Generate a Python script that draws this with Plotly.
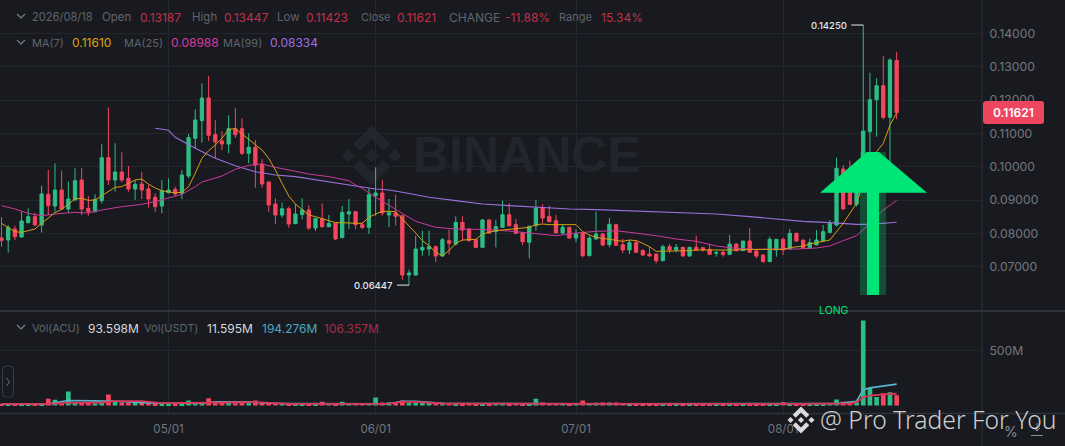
import pandas as pd
import plotly.graph_objects as go

W, H = 1065, 446
dates = [d.strftime("%Y-%m-%d") for d in pd.date_range("2026-04-06", periods=135, freq="D")]

open_ = [.0786,.0780,.0813,.0789,.0832,.0850,.0825,.0917,.0882,.0930,
 .0873,.0900,.0960,.0875,.0865,.0898,.1027,.0960,.0984,.0965,
 .0933,.0948,.0933,.0908,.0882,.0922,.0932,.0920,.0972,.1085,
 .1138,.1206,.1096,.1077,.1068,.1114,.1114,.1040,.1058,.1008,
 .0954,.0888,.0855,.0874,.0829,.0856,.0870,.0816,.0844,.0820,
 .0830,.0787,.0858,.0865,.0826,.0818,.0913,.0921,.0855,.0861,
 .0853,.0675,.0675,.0750,.0753,.0760,.0732,.0778,.0768,.0833,
 .0813,.0781,.0758,.0840,.0805,.0818,.0856,.0826,.0801,.0773,
 .0823,.0876,.0851,.0838,.0801,.0818,.0786,.0800,.0733,.0783,
 .0798,.0766,.0826,.0766,.0750,.0772,.0748,.0738,.0738,.0718,
 .0760,.0750,.0758,.0732,.0758,.0757,.0752,.0740,.0743,.0737,
 .0768,.0748,.0777,.0747,.0735,.0715,.0750,.0782,.0753,.0800,
 .0780,.0755,.0765,.0777,.0803,.0825,.0993,.0980,.0887,.0990,
 .1105,.1201,.1243,.1148,.13187]
high = [.0848,.0825,.0823,.0865,.0875,.0862,.0943,.0990,.1010,.0988,
 .0955,.0995,.0996,.0912,.0917,.1067,.1178,.1070,.1043,.1002,
 .0960,.0985,.0945,.0920,.0960,.0965,.0940,.0990,.1098,.1172,
 .1250,.1272,.1140,.1106,.1154,.1177,.1145,.1100,.1080,.1023,
 .0954,.0905,.0892,.0880,.0888,.0905,.0884,.0845,.0890,.0855,
 .0830,.0882,.0903,.0865,.0833,.0935,.0998,.0960,.0903,.0916,
 .0853,.0691,.0793,.0808,.0808,.0763,.0786,.0811,.0851,.0851,
 .0816,.0781,.0843,.0843,.0841,.0898,.0891,.0843,.0803,.0823,
 .0900,.0888,.0883,.0855,.0828,.0818,.0813,.0803,.0793,.0865,
 .0801,.0846,.0826,.0783,.0780,.0780,.0753,.0760,.0738,.0766,
 .0768,.0768,.0758,.0760,.0793,.0759,.0767,.0748,.0750,.0795,
 .0770,.0777,.0815,.0750,.0735,.0790,.0782,.0787,.0813,.0802,
 .0780,.0785,.0810,.0825,.0840,.1027,.1005,.1018,.1000,.14250,
 .1282,.1265,.1332,.1325,.13447]
low = [.0760,.0742,.0780,.0787,.0830,.0823,.0802,.0855,.0865,.0870,
 .0862,.0898,.0855,.0853,.0863,.0890,.0945,.0925,.0953,.0925,
 .0900,.0903,.0877,.0865,.0860,.0920,.0912,.0902,.0965,.1055,
 .1072,.1077,.1025,.1050,.1040,.1086,.1035,.1010,.0937,.0937,
 .0865,.0828,.0847,.0817,.0828,.0842,.0810,.0807,.0817,.0818,
 .0780,.0785,.0813,.0813,.0813,.0798,.0853,.0853,.0818,.0823,
 .0661,.06447,.0673,.0733,.0733,.0713,.0730,.0736,.0763,.0778,
 .0776,.0756,.0758,.0798,.0758,.0816,.0820,.0798,.0765,.0725,
 .0808,.0831,.0833,.0801,.0798,.0784,.0773,.0728,.0731,.0781,
 .0761,.0758,.0763,.0740,.0738,.0741,.0733,.0731,.0710,.0716,
 .0740,.0743,.0730,.0730,.0748,.0745,.0735,.0730,.0730,.0735,
 .0745,.0748,.0742,.0725,.0712,.0715,.0730,.0735,.0752,.0775,
 .0753,.0753,.0765,.0775,.0800,.0820,.0873,.0885,.0880,.0970,
 .1040,.1090,.1142,.1000,.11423]
close = [.0779,.0817,.0790,.0837,.0850,.0825,.0918,.0883,.0930,.0873,
 .0903,.0958,.0873,.0865,.0902,.1027,.0960,.0984,.0960,.0933,
 .0947,.0930,.0903,.0880,.0928,.0930,.0918,.0975,.1087,.1140,
 .1206,.1094,.1074,.1068,.1114,.1096,.1040,.1058,.1005,.0948,
 .0885,.0855,.0874,.0828,.0858,.0870,.0816,.0845,.0820,.0830,
 .0783,.0863,.0865,.0826,.0818,.0916,.0921,.0861,.0862,.0851,
 .0675,.0681,.0753,.0758,.0760,.0732,.0781,.0770,.0833,.0810,
 .0778,.0758,.0840,.0801,.0820,.0856,.0823,.0800,.0775,.0821,
 .0876,.0846,.0835,.0801,.0818,.0786,.0798,.0733,.0786,.0798,
 .0765,.0827,.0764,.0750,.0772,.0743,.0735,.0732,.0718,.0760,
 .0750,.0758,.0732,.0758,.0750,.0750,.0737,.0742,.0737,.0768,
 .0748,.0777,.0743,.0732,.0715,.0782,.0782,.0750,.0800,.0777,
 .0755,.0772,.0780,.0805,.0830,.0995,.0873,.0887,.0990,.1107,
 .1201,.1243,.1148,.1320,.11621]
volume_m = [14,12,16,14,13,11,16,60,52,28,
 127,30,24,22,20,22,100,32,26,24,
 22,25,20,18,17,16,18,16,45,22,
 24,66,30,28,24,20,22,24,45,26,
 24,22,20,18,18,16,16,14,33,20,
 18,33,22,20,20,22,73,28,30,26,
 45,28,26,26,28,24,24,20,16,18,
 20,14,14,18,20,22,18,20,18,18,
 60,26,22,20,22,18,20,45,22,24,
 28,26,26,20,18,18,16,14,14,16,
 18,14,14,14,16,14,14,12,14,14,
 14,16,15,14,14,16,18,30,14,16,
 14,14,16,18,20,55,33,33,30,773,
 158,76,112,121,94]

ma7_days = list(range(0, 135))
ma7 = [.0830,.0817,.0805,.0803,.0808,.0813,.0830,.0847,.0862,.0872,
 .0888,.0903,.0905,.0899,.0900,.0912,.0925,.0938,.0940,.0950,
 .0960,.0963,.0948,.0936,.0928,.0924,.0922,.0923,.0940,.0980,
 .1025,.1048,.1065,.1085,.1112,.1114,.1098,.1080,.1066,.1050,
 .1025,.0990,.0950,.0912,.0888,.0870,.0855,.0850,.0844,.0838,
 .0832,.0832,.0830,.0830,.0830,.0848,.0858,.0866,.0866,.0865,
 .0843,.0823,.0801,.0778,.0763,.0743,.0733,.0748,.0770,.0780,
 .0781,.0782,.0798,.0803,.0808,.0810,.0812,.0813,.0816,.0818,
 .0826,.0828,.0826,.0826,.0827,.0828,.0826,.0805,.0795,.0788,
 .0785,.0783,.0780,.0776,.0780,.0778,.0770,.0760,.0746,.0746,
 .0746,.0746,.0747,.0748,.0750,.0750,.0750,.0750,.0748,.0748,
 .0750,.0751,.0752,.0752,.0752,.0752,.0752,.0752,.0757,.0760,
 .0762,.0768,.0773,.0776,.0780,.0805,.0830,.0860,.0890,.0950,
 .1020,.1045,.1070,.1125,.11610]
ma25_days = [0,2,4,6,8,11,13,15,18,21,23,25,27,29,30,33,35,37,39,41,46,49,52,53,54,56,59,62,65,68,71,74,77,80,83,86,89,92,95,98,101,104,107,110,113,116,119,122,124,126,128,130,132,134]
ma25 = [.0883,.0873,.0860,.0853,.0858,.0863,.0861,.0870,.0880,.0887,.0895,.0907,.0917,.0940,.0954,.0972,.0992,.1004,.1008,.0998,.0978,.0970,.0958,.0945,.0935,.0908,.0873,.0836,.0818,.0813,.0812,.0810,.0805,.0798,.0793,.0801,.0806,.0808,.0801,.0793,.0783,.0776,.0762,.0755,.0752,.0752,.0753,.0756,.0762,.0778,.0793,.0830,.0870,.08988]
ma99_days = [23,25,26,29,32,35,38,41,44,47,50,53,56,58,60,64,68,72,76,80,85,89,93,98,104,107,112,116,120,124,128,130,132,134]
ma99 = [.1115,.1109,.1088,.1055,.1025,.1003,.0985,.0975,.0970,.0960,.0950,.0942,.0933,.0930,.0923,.0908,.0898,.0888,.0883,.0878,.0873,.0871,.0868,.0865,.0861,.0858,.0850,.0843,.0836,.0832,.0827,.0827,.0831,.08334]
vol_fast_days = [0,7,9,10,14,17,22,24,30,32,37,39,43,50,58,60,62,66,75,85,95,105,115,125,128,129,130,134]
vol_fast_m = [14,14,36,45,42,38,24,20,20,34,34,22,17,15,16,38,38,20,16,15,15,15,15,18,39,143,160,194.276]
vol_slow_days = [0,7,10,15,17,21,24,30,34,38,43,50,58,60,62,66,80,100,120,127,128,129,130,132,134]
vol_slow_m = [15,15,24,27,39,39,21,21,27,30,15,15,16,33,33,18,16,15,15,18,30,75,90,100,106.357]

price_ticks = [.07,.08,.09,.10,.11,.12,.13,.14]
price_tick_labels = ["0.07000","0.08000","0.09000","0.10000","0.11000","0.12000","0.13000","0.14000"]
time_ticks = ["2026-05-01","2026-06-01","2026-07-01","2026-08-01"]
time_tick_labels = ["05/01","06/01","07/01","08/01"]

assert all(len(a) == 135 for a in (open_, high, low, close, volume_m, ma7)), [len(a) for a in (open_, high, low, close, volume_m, ma7)]
assert len(ma25_days) == len(ma25) and len(ma99_days) == len(ma99)
assert len(vol_fast_days) == len(vol_fast_m) and len(vol_slow_days) == len(vol_slow_m)

BG, GRID, EDGE = "#181A20", "#23262D", "#2E323A"
UP, DOWN = "#2EBD85", "#F6465D"
GREY, RED, WHITE = "#5F646D", "#C23049", "#D6D9DD"
YEL, MAG, PUR = "#DDA20F", "#D63AA0", "#A06FE0"
ARROW = "#00E676"
FONT = "Inter"
X_RANGE = ["2026-04-05 18:30", "2026-08-30 18:40"]

def X(px): return px / W
def Y(py): return 1 - py / H

fig = go.Figure()
fig.add_trace(go.Candlestick(x=dates, open=open_, high=high, low=low, close=close,
    increasing=dict(line=dict(color=UP, width=1), fillcolor=UP),
    decreasing=dict(line=dict(color=DOWN, width=1), fillcolor=DOWN),
    whiskerwidth=0, xaxis="x", yaxis="y", hoverinfo="skip"))
for days, vals, col, w in ((ma99_days, ma99, "#9A6FDB", 1.1), (ma25_days, ma25, "#C93A9C", 1), (ma7_days, ma7, "#D79E12", 1)):
    fig.add_trace(go.Scatter(x=[dates[d] for d in days], y=vals, mode="lines",
        line=dict(color=col, width=w), xaxis="x", yaxis="y", hoverinfo="skip"))
fig.add_trace(go.Bar(x=dates, y=volume_m, marker_color=[UP if c >= o else DOWN for o, c in zip(open_, close)],
    marker_line_width=0, xaxis="x2", yaxis="y2", hoverinfo="skip"))
fig.add_trace(go.Scatter(x=[dates[d] for d in vol_fast_days], y=vol_fast_m, mode="lines",
    line=dict(color="#55B7CF", width=1.6), xaxis="x2", yaxis="y2", hoverinfo="skip"))
fig.add_trace(go.Scatter(x=[dates[d] for d in vol_slow_days], y=vol_slow_m, mode="lines",
    line=dict(color="#DB3459", width=1.8), xaxis="x2", yaxis="y2", hoverinfo="skip"))

shapes, notes = [], []

def line(x0, y0, x1, y1, color, width=1, layer="above"):
    shapes.append(dict(type="line", xref="paper", yref="paper", x0=X(x0), y0=Y(y0), x1=X(x1), y1=Y(y1),
                       line=dict(color=color, width=width), layer=layer))

def poly(points, fill, layer="above", opacity=1, stroke=None):
    path = "M" + " L".join(f"{X(a):.5f},{Y(b):.5f}" for a, b in points) + " Z"
    shapes.append(dict(type="path", xref="paper", yref="paper", path=path, fillcolor=fill, opacity=opacity,
                       line=dict(width=0 if not stroke else 1, color=stroke or fill), layer=layer))

def rounded(x0, y0, x1, y1, r, fill, stroke=None):
    p = (f"M{X(x0+r)},{Y(y0)} L{X(x1-r)},{Y(y0)} Q{X(x1)},{Y(y0)} {X(x1)},{Y(y0+r)} L{X(x1)},{Y(y1-r)} "
         f"Q{X(x1)},{Y(y1)} {X(x1-r)},{Y(y1)} L{X(x0+r)},{Y(y1)} Q{X(x0)},{Y(y1)} {X(x0)},{Y(y1-r)} "
         f"L{X(x0)},{Y(y0+r)} Q{X(x0)},{Y(y0)} {X(x0+r)},{Y(y0)} Z")
    shapes.append(dict(type="path", xref="paper", yref="paper", path=p, fillcolor=fill,
                       line=dict(width=1 if stroke else 0, color=stroke or fill), layer="above"))

def text(px, py, s, color, size=12, anchor="left", family=FONT, weight=None):
    notes.append(dict(xref="paper", yref="paper", x=X(px), y=Y(py), text=s, showarrow=False,
                      xanchor=anchor, yanchor="middle", borderpad=0,
                      font=dict(color=color, size=size, family=family, weight=weight)))

LOGO = [[(38.73,53.2),(63.3,28.64),(87.88,53.22),(102.17,38.93),(63.3,0),(24.44,38.87)],
        [(0,63.31),(14.3,49.01),(28.6,63.31),(14.3,77.6)],
        [(38.73,73.41),(63.3,97.97),(87.89,73.4),(102.19,87.68),(63.3,126.61),(24.44,87.76)],
        [(98.01,63.31),(112.3,49.01),(126.6,63.31),(112.3,77.6)],
        [(77.79,63.3),(63.3,48.8),(48.81,63.28),(63.3,77.8)]]
def logo(cx, cy, size, fill, layer):
    k = size / 126.6
    for piece in LOGO:
        poly([(cx + (a - 63.3) * k, cy + (b - 63.3) * k) for a, b in piece], fill, layer)

logo(371.7, 155.5, 60, "#22252B", "below")
text(527, 155, "BINANCE", "#22252B", 50, "center", "Liberation Sans", "bold")

# pane edges
line(0, 311, W, 311, EDGE, 2)
line(0, 413.5, W, 413.5, EDGE, 1.5)
line(982, 0, 982, H, EDGE, 1)

# LONG signal
poly([(860,152),(886,152),(886,295),(860,295)], ARROW, opacity=0.25)
poly([(867,152),(879,152),(927,192.7),(879,192.7),(879,295),(867,295),(867,192.7),(820,192.7)], ARROW)
text(834, 310, "LONG", ARROW, 10.5, "center")

# high / low markers
for day, price, label in ((129, max(high), "0.14250"), (61, min(low), "0.06447")):
    shapes.append(dict(type="line", xref="x", yref="y", xsizemode="pixel", xanchor=dates[day], x0=-12, x1=0,
                       y0=price, y1=price, line=dict(color="#E6E8EA", width=1), layer="above"))
    notes.append(dict(xref="x", yref="y", x=dates[day], y=price, text=label, showarrow=False, xanchor="right",
                      xshift=-15, yanchor="middle", borderpad=0,
                      font=dict(color="#E6E8EA", size=9.5, family=FONT, weight=500)))

# price tag
rounded(983, 101, 1044, 124, 3, "#EE4560")
text(1013.5, 112.8, "0.11621", "#FFFFFF", 12, "center", FONT, 600)

# legends
def chevron(y):
    shapes.append(dict(type="path", xref="paper", yref="paper",
        path=f"M{X(17)},{Y(y-2)} L{X(21)},{Y(y+2)} L{X(25)},{Y(y-2)}", line=dict(color="#7A808A", width=1.2), layer="above"))
for y in (16, 42, 327):
    chevron(y)
LBL, NUM = 11, 12
row1 = [(31,"2026/08/18",GREY,11.1),(101,"Open",GREY,LBL+.5),(139,"0.13187",RED,NUM),(191,"High",GREY,LBL+.5),(223,"0.13447",RED,NUM),
        (276,"Low",GREY,LBL+.5),(305,"0.11423",RED,NUM),(360,"Close",GREY,LBL),(396,"0.11621",RED,NUM),(448,"CHANGE",GREY,NUM),
        (504,"-11.88%",RED,NUM),(558,"Range",GREY,LBL),(600,"15.34%",RED,NUM)]
for x, s, c, z in row1:
    text(x, 17, s, c, z)
row2 = [(31,"MA(7)",GREY,LBL),(71,"0.11610",YEL,NUM),(123,"MA(25)",GREY,LBL),(170,"0.08988",MAG,NUM),(222,"MA(99)",GREY,LBL),(269,"0.08334",PUR,NUM)]
for x, s, c, z in row2:
    text(x, 43, s, c, z)
row3 = [(31,"Vol(ACU)",GREY,LBL),(87,"93.598M",WHITE,NUM),(143,"Vol(USDT)",GREY,LBL),(206,"11.595M",WHITE,NUM),(261,"194.276M","#4DA9C2",NUM),(323,"106.357M","#A72C46",NUM)]
for x, s, c, z in row3:
    text(x, 328, s, c, z)

# side handle
rounded(2.5, 366, 13.5, 397, 4, "rgba(0,0,0,0)", "#3A3E46")
shapes.append(dict(type="path", xref="paper", yref="paper",
    path=f"M{X(6.5)},{Y(378)} L{X(9.5)},{Y(382)} L{X(6.5)},{Y(386)}", line=dict(color="#6A6F78", width=1), layer="above"))

# corner tools and credit
text(1011, 431, "%", "#8A8F97", 14, "center")
shapes.append(dict(type="path", xref="paper", yref="paper",
    path=f"M{X(1037)},{Y(423)} L{X(1037)},{Y(431)} M{X(1034)},{Y(428)} L{X(1037)},{Y(431)} L{X(1040)},{Y(428)} M{X(1031)},{Y(435.5)} L{X(1043)},{Y(435.5)}",
    line=dict(color="#8A8F97", width=1), layer="above"))
logo(801, 420, 27, "#DADADA", "above")
text(819, 419, "@ Pro Trader For You", "#CFCFCF", 24.7, "left", "Noto Sans", 300)

axis_common = dict(showline=False, zeroline=False, gridcolor=GRID, gridwidth=1)
fig.update_layout(
    width=W, height=H, margin=dict(l=0, r=0, t=0, b=0, autoexpand=False),
    paper_bgcolor=BG, plot_bgcolor=BG, showlegend=False, bargap=0.3, boxgap=0.3,
    font=dict(family=FONT, size=12, color="#72777F"), shapes=shapes, annotations=notes,
    xaxis=dict(domain=[0, 982/W], anchor="y", type="date", range=X_RANGE,
               rangeslider=dict(visible=False), tickvals=time_ticks, showticklabels=False, **axis_common),
    yaxis=dict(domain=[1-311/H, 1], anchor="x", side="right", range=[.0567, .15], tickvals=price_ticks,
               ticktext=price_tick_labels, ticks="outside", ticklen=4, tickcolor="rgba(0,0,0,0)",
               tickfont=dict(size=12.2, color="#72777F"), **axis_common),
    xaxis2=dict(domain=[0, 982/W], anchor="y2", type="date", range=X_RANGE,
                tickvals=time_ticks, ticktext=time_tick_labels, ticks="outside", ticklen=5, tickcolor="rgba(0,0,0,0)",
                tickfont=dict(size=11.5, color="#72777F"), **axis_common),
    yaxis2=dict(domain=[1-413.5/H, 1-311/H], anchor="x2", side="right", range=[-73, 859], tickvals=[500], ticktext=["500M"],
                ticks="outside", ticklen=4, tickcolor="rgba(0,0,0,0)", tickfont=dict(size=12.2, color="#72777F"), **axis_common),
)
fig.write_html("out.html", config=dict(displayModeBar=False), post_script="document.body.style.margin='0';")
